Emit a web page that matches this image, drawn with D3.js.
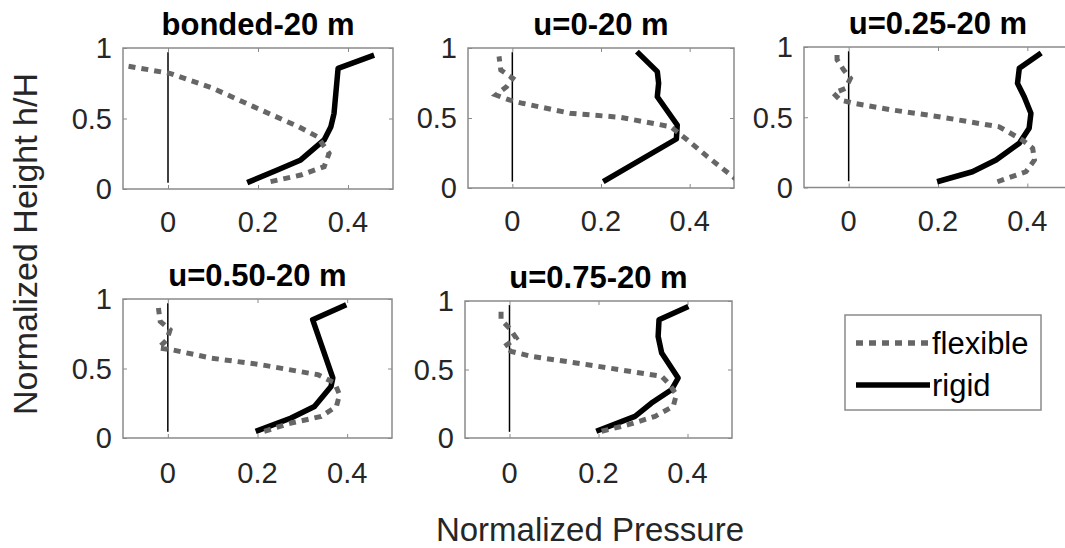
<!DOCTYPE html>
<html>
<head>
<meta charset="utf-8">
<script src="https://cdn.jsdelivr.net/npm/d3@7"></script>
<style>
  html, body { margin: 0; padding: 0; background: #fff; }
  svg { display: block; font-family: "Liberation Sans", Arial, sans-serif; }
</style>
</head>
<body>
<svg id="chart" width="1065" height="548"></svg>
<script>
// ---------- DATA ----------
const panelTitles = ["bonded-20 m", "u=0-20 m", "u=0.25-20 m", "u=0.50-20 m", "u=0.75-20 m"];
const xTicks = [0, 0.2, 0.4];
const xTickLabels = ["0", "0.2", "0.4"];
const yTicks = [0, 0.5, 1];
const yTickLabels = ["0", "0.5", "1"];
const seriesNames = ["flexible", "rigid"];

const bondedFlexX = [0.228, 0.295, 0.347, 0.358, 0.332, 0.29, 0.19, 0.10, 0.004, -0.25];
const bondedFlexY = [0.052, 0.099, 0.158, 0.253, 0.371, 0.442, 0.584, 0.714, 0.82, 0.96];
const bondedRigidX = [0.176, 0.243, 0.295, 0.347, 0.362, 0.369, 0.378, 0.458];
const bondedRigidY = [0.045, 0.135, 0.206, 0.348, 0.442, 0.537, 0.856, 0.95];

const u0FlexX = [0.51, 0.44, 0.395, 0.357, 0.243, 0.13, 0.023, -0.007, -0.037, -0.013, 0.001, -0.026, -0.03];
const u0FlexY = [0.05, 0.224, 0.343, 0.438, 0.505, 0.534, 0.605, 0.629, 0.664, 0.724, 0.784, 0.843, 0.94];
const u0RigidX = [0.205, 0.37, 0.372, 0.327, 0.33, 0.327, 0.281];
const u0RigidY = [0.045, 0.35, 0.45, 0.652, 0.748, 0.831, 0.974];

const u25FlexX = [0.333, 0.397, 0.416, 0.412, 0.389, 0.337, 0.202, 0.097, 0.011, -0.019, -0.034, -0.007, 0.004, -0.011, -0.026, -0.026];
const u25FlexY = [0.041, 0.112, 0.196, 0.279, 0.338, 0.432, 0.504, 0.552, 0.6, 0.623, 0.67, 0.706, 0.777, 0.836, 0.91, 0.955];
const u25RigidX = [0.198, 0.277, 0.33, 0.382, 0.404, 0.408, 0.393, 0.378, 0.382, 0.431];
const u25RigidY = [0.041, 0.112, 0.196, 0.315, 0.421, 0.528, 0.646, 0.741, 0.848, 0.958];

const u50FlexX = [0.215, 0.275, 0.342, 0.376, 0.383, 0.372, 0.335, 0.208, 0.096, 0.009, -0.021, -0.002, 0.005, -0.017, -0.021];
const u50FlexY = [0.048, 0.108, 0.155, 0.227, 0.312, 0.396, 0.455, 0.527, 0.575, 0.635, 0.647, 0.707, 0.779, 0.839, 0.935];
const u50RigidX = [0.196, 0.275, 0.327, 0.364, 0.368, 0.323, 0.398];
const u50RigidY = [0.048, 0.144, 0.227, 0.371, 0.432, 0.851, 0.959];

const u75FlexX = [0.207, 0.267, 0.327, 0.368, 0.375, 0.36, 0.342, 0.176, 0.049, 0.004, -0.011, 0.015, 0.0, -0.019, -0.019];
const u75FlexY = [0.049, 0.097, 0.158, 0.231, 0.316, 0.389, 0.45, 0.535, 0.596, 0.632, 0.668, 0.73, 0.801, 0.864, 0.96];
const u75RigidX = [0.195, 0.282, 0.319, 0.364, 0.379, 0.342, 0.334, 0.336, 0.402];
const u75RigidY = [0.049, 0.158, 0.255, 0.352, 0.438, 0.62, 0.742, 0.863, 0.96];

const zeroLineX = [0, 0];
const zeroLineY = [0.045, 0.97];

const xDomain = [-0.1, 0.5];
const yDomain = [0, 1];

// ---------- LAYOUT ----------
const panels = [
  { title: panelTitles[0], fx: bondedFlexX, fy: bondedFlexY, rx: bondedRigidX, ry: bondedRigidY, box: [123, 393, 48, 189] },
  { title: panelTitles[1], fx: u0FlexX, fy: u0FlexY, rx: u0RigidX, ry: u0RigidY, box: [468, 734, 48, 188] },
  { title: panelTitles[2], fx: u25FlexX, fy: u25FlexY, rx: u25RigidX, ry: u25RigidY, box: [804, 1072, 47, 187.5] },
  { title: panelTitles[3], fx: u50FlexX, fy: u50FlexY, rx: u50RigidX, ry: u50RigidY, box: [123, 392, 299, 438] },
  { title: panelTitles[4], fx: u75FlexX, fy: u75FlexY, rx: u75RigidX, ry: u75RigidY, box: [465, 732, 301, 438] }
];

const svg = d3.select("#chart");
const textColor = "#262626";
const boxColor = "#8a8a8a";
const flexColor = "#666666";

panels.forEach((p, i) => {
  const [x0, x1, y0, y1] = p.box;
  const x = d3.scaleLinear().domain(xDomain).range([x0, x1]);
  const y = d3.scaleLinear().domain(yDomain).range([y1, y0]);
  const g = svg.append("g");

  const clipId = "clip" + i;
  svg.append("clipPath").attr("id", clipId)
    .append("rect").attr("x", x0).attr("y", y0).attr("width", x1 - x0).attr("height", y1 - y0);

  const axB = d3.axisBottom(x).tickValues(xTicks).tickSize(-4).tickFormat("");
  const axT = d3.axisTop(x).tickValues(xTicks).tickSize(-4).tickFormat("");
  const axL = d3.axisLeft(y).tickValues(yTicks).tickSize(-4).tickFormat("");
  const axR = d3.axisRight(y).tickValues(yTicks).tickSize(-4).tickFormat("");
  [[axB, `translate(0,${y1})`], [axT, `translate(0,${y0})`], [axL, `translate(${x0},0)`], [axR, `translate(${x1},0)`]]
    .forEach(([ax, tr]) => {
      const a = g.append("g").attr("transform", tr).call(ax);
      a.select(".domain").remove();
      a.selectAll("line").attr("stroke", boxColor).attr("stroke-width", 1);
    });

  g.append("rect").attr("x", x0).attr("y", y0).attr("width", x1 - x0).attr("height", y1 - y0)
    .attr("fill", "none").attr("stroke", boxColor).attr("stroke-width", 1.5);

  g.selectAll(".xl").data(xTicks).enter().append("text")
    .attr("x", d => x(d)).attr("y", y1 + (i < 3 ? 43 : 45))
    .attr("text-anchor", "middle").attr("font-size", 29).attr("fill", textColor)
    .text((d, k) => xTickLabels[k]);
  g.selectAll(".yl").data(yTicks).enter().append("text")
    .attr("x", x0 - 11).attr("y", d => y(d)).attr("dy", "0.36em")
    .attr("text-anchor", "end").attr("font-size", 29).attr("fill", textColor)
    .text((d, k) => yTickLabels[k]);

  g.append("text").attr("x", (x0 + x1) / 2).attr("y", y0 - 13)
    .attr("text-anchor", "middle").attr("font-size", 31).attr("font-weight", "bold").attr("fill", "#000")
    .text(p.title);

  const line = d3.line().x(d => x(d[0])).y(d => y(d[1]));
  const plot = g.append("g").attr("clip-path", `url(#${clipId})`);

  plot.append("path").datum(d3.zip(zeroLineX, zeroLineY)).attr("d", line)
    .attr("fill", "none").attr("stroke", "#000").attr("stroke-width", 1.5);
  plot.append("path").datum(d3.zip(p.rx, p.ry)).attr("d", line)
    .attr("fill", "none").attr("stroke", "#000").attr("stroke-width", 5.5)
    .attr("stroke-linejoin", "round");
  plot.append("path").datum(d3.zip(p.fx, p.fy)).attr("d", line)
    .attr("fill", "none").attr("stroke", flexColor).attr("stroke-width", 5)
    .attr("stroke-dasharray", "7,6");
});

// legend
const lg = svg.append("g");
lg.append("rect").attr("x", 845).attr("y", 315).attr("width", 196).attr("height", 95)
  .attr("fill", "#fff").attr("stroke", boxColor).attr("stroke-width", 1.5);
const legendItems = [
  { name: seriesNames[0], y: 343, dash: "7,6", color: flexColor },
  { name: seriesNames[1], y: 385, dash: null, color: "#000" }
];
legendItems.forEach(it => {
  lg.append("line").attr("x1", 856).attr("x2", 930).attr("y1", it.y).attr("y2", it.y)
    .attr("stroke", it.color).attr("stroke-width", 5.5)
    .attr("stroke-dasharray", it.dash);
  lg.append("text").attr("x", 932).attr("y", it.y).attr("dy", "0.36em")
    .attr("font-size", 31).attr("fill", "#000").text(it.name);
});

// axis labels
svg.append("text").attr("x", 590).attr("y", 541).attr("text-anchor", "middle")
  .attr("font-size", 33).attr("fill", textColor).text("Normalized Pressure");
svg.append("text").attr("transform", "translate(37,244) rotate(-90)")
  .attr("text-anchor", "middle").attr("font-size", 34).attr("fill", textColor).text("Normalized Height h/H");
</script>
</body>
</html>
